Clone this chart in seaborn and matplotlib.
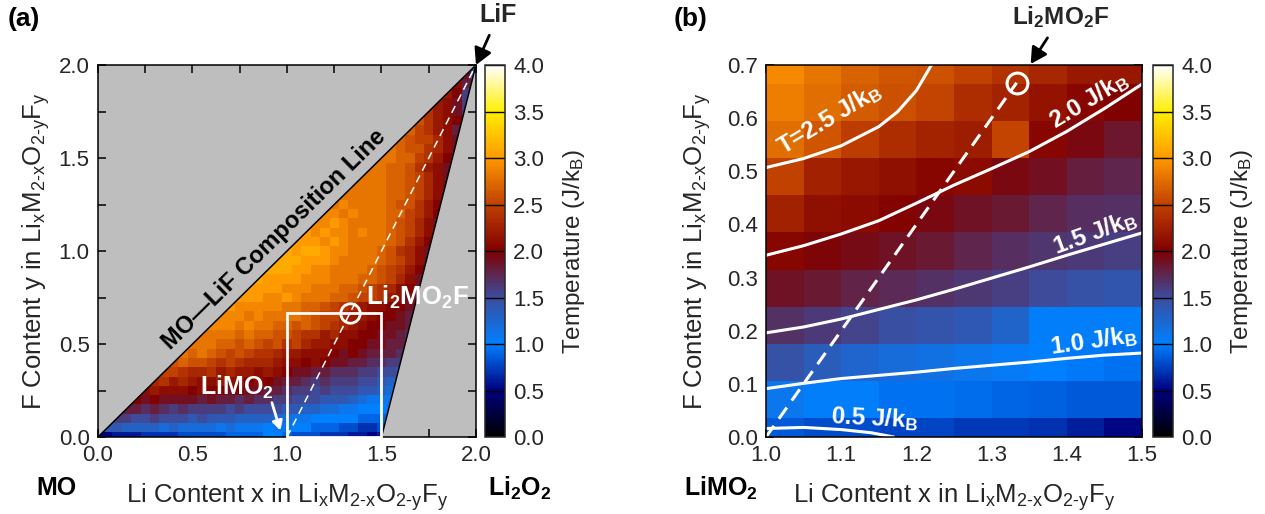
import numpy as np
import pandas as pd
import matplotlib
matplotlib.use("Agg")
import matplotlib.pyplot as plt
import seaborn as sns
from matplotlib.colors import LinearSegmentedColormap, Normalize
from matplotlib.patches import Polygon, Rectangle

# ---------------------------------------------------------------------------
# Data
# ---------------------------------------------------------------------------
# (a) ordering temperature (tenths of J/kB) on the 0.05 composition grid.
# Row j holds F content y = 0.05*j; its first entry sits at Li content x = y.
temp_a_rows = [
    [5, 5, 6, 6, 6, 7, 7, 7, 7, 8, 8, 8, 8, 8, 9, 9, 9, 9, 10, 10, 9, 8, 8, 8, 7, 7, 7, 6, 6, 5, 6],
    [14, 14, 13, 13, 13, 13, 12, 13, 12, 12, 12, 12, 11, 12, 11, 11, 11, 10, 11, 11, 10, 10, 9, 9, 9, 8, 8, 7, 7, 8],
    [16, 16, 15, 15, 16, 15, 15, 15, 14, 15, 14, 14, 14, 13, 13, 13, 13, 12, 12, 11, 11, 10, 10, 10, 10, 10, 9, 9, 9, 10],
    [18, 18, 17, 18, 17, 16, 17, 16, 16, 16, 16, 15, 16, 15, 15, 15, 15, 14, 14, 13, 13, 12, 12, 11, 11, 10, 10, 10, 11],
    [20, 19, 20, 19, 19, 19, 19, 18, 19, 18, 18, 17, 18, 17, 17, 16, 16, 15, 15, 15, 14, 14, 14, 13, 12, 11, 11, 11],
    [21, 22, 21, 21, 21, 20, 21, 20, 20, 19, 20, 19, 19, 18, 18, 17, 16, 16, 15, 16, 15, 15, 15, 14, 14, 13, 12],
    [23, 24, 22, 23, 22, 21, 21, 22, 21, 21, 20, 21, 20, 19, 18, 18, 17, 16, 17, 16, 16, 16, 15, 15, 14, 13, 13],
    [25, 25, 24, 23, 23, 24, 22, 23, 22, 22, 21, 22, 21, 20, 19, 19, 18, 18, 17, 17, 17, 16, 16, 15, 15, 14],
    [26, 27, 26, 26, 25, 24, 25, 24, 23, 23, 23, 22, 21, 21, 20, 21, 20, 19, 19, 18, 18, 17, 17, 16, 16],
    [28, 27, 28, 27, 26, 25, 26, 25, 24, 24, 23, 22, 22, 21, 21, 21, 20, 19, 20, 19, 18, 18, 18, 17],
    [28, 28, 28, 27, 27, 26, 27, 26, 25, 26, 24, 25, 23, 22, 22, 21, 21, 20, 20, 19, 19, 18, 18, 17],
    [28, 28, 28, 28, 27, 28, 27, 27, 26, 26, 25, 24, 24, 22, 23, 21, 21, 20, 20, 19, 19, 18, 17],
    [29, 29, 29, 28, 29, 28, 28, 27, 27, 26, 27, 26, 25, 24, 23, 22, 21, 20, 20, 19, 19, 18],
    [29, 29, 29, 28, 29, 28, 28, 28, 28, 27, 26, 25, 25, 23, 22, 22, 21, 20, 20, 19, 18],
    [30, 29, 29, 29, 29, 29, 28, 28, 27, 27, 26, 25, 24, 23, 22, 21, 21, 20, 20, 19, 18],
    [30, 30, 30, 29, 29, 30, 29, 28, 28, 28, 27, 27, 26, 25, 25, 24, 22, 21, 19, 18],
    [30, 30, 30, 30, 29, 29, 29, 28, 28, 28, 27, 27, 26, 25, 24, 23, 21, 20, 18],
    [31, 30, 30, 30, 30, 29, 29, 29, 28, 28, 28, 27, 27, 26, 25, 23, 21, 19],
    [31, 31, 31, 30, 30, 29, 29, 28, 28, 28, 28, 27, 26, 25, 24, 22, 20, 18],
    [31, 31, 31, 30, 30, 30, 29, 28, 28, 28, 28, 27, 26, 25, 23, 21, 19],
    [31, 30, 31, 31, 30, 29, 29, 28, 28, 28, 27, 26, 24, 23, 21, 19],
    [30, 30, 30, 29, 30, 29, 28, 28, 28, 28, 27, 26, 24, 22, 20],
    [30, 29, 30, 29, 29, 28, 29, 28, 28, 27, 26, 25, 23, 21, 19],
    [29, 29, 30, 29, 28, 28, 28, 28, 27, 26, 25, 23, 21, 19],
    [29, 29, 28, 29, 28, 28, 28, 27, 27, 25, 24, 22, 20],
    [28, 29, 28, 28, 28, 28, 27, 26, 26, 24, 22, 20],
    [28, 28, 28, 28, 28, 27, 27, 26, 25, 23, 21, 19],
    [28, 28, 28, 28, 27, 27, 26, 25, 23, 21, 19],
    [28, 28, 28, 27, 27, 26, 25, 23, 21, 19],
    [28, 28, 27, 27, 26, 24, 22, 21, 19],
    [28, 28, 27, 27, 25, 24, 22, 20, 18],
    [28, 27, 26, 26, 24, 23, 21, 19],
    [27, 26, 25, 25, 23, 21, 19],
    [27, 25, 24, 22, 21, 18],
    [26, 24, 22, 21, 20, 17],
    [24, 22, 21, 19, 16],
    [22, 21, 19, 16],
    [22, 20, 16],
    [21, 18, 15],
    [19, 14],
    [14],
]
grid_step_a = 0.05

# (b) finer calculation around LiMO2 -> Li2MO2F (J/kB)
li_b = [1.025, 1.075, 1.125, 1.175, 1.225, 1.275, 1.325, 1.375, 1.425, 1.475]
f_b = [0.00, 0.07, 0.14, 0.21, 0.28, 0.35, 0.42, 0.49, 0.56, 0.63, 0.70]
temp_b = [
    [0.85, 0.80, 0.80, 0.77, 0.77, 0.73, 0.73, 0.70, 0.62, 0.52],
    [1.10, 1.02, 1.02, 0.95, 0.95, 0.93, 0.90, 0.88, 0.85, 0.85],
    [1.45, 1.35, 1.25, 1.20, 1.15, 1.10, 1.05, 1.00, 0.98, 0.95],
    [1.68, 1.62, 1.55, 1.48, 1.43, 1.38, 1.28, 1.02, 1.02, 1.02],
    [1.88, 1.83, 1.78, 1.73, 1.68, 1.63, 1.58, 1.50, 1.45, 1.42],
    [2.05, 1.97, 1.93, 1.88, 1.83, 1.75, 1.70, 1.65, 1.62, 1.58],
    [2.25, 2.12, 2.08, 2.03, 1.95, 1.88, 1.83, 1.75, 1.70, 1.68],
    [2.50, 2.25, 2.18, 2.12, 2.05, 2.08, 1.95, 1.90, 1.80, 1.75],
    [2.75, 2.62, 2.48, 2.35, 2.28, 2.22, 2.52, 2.05, 1.95, 1.85],
    [2.85, 2.75, 2.65, 2.58, 2.52, 2.35, 2.28, 2.15, 2.05, 2.00],
    [2.92, 2.80, 2.70, 2.62, 2.60, 2.50, 2.40, 2.30, 2.20, 2.18],
]

# iso-temperature lines in (b)
iso_x_grid = [1.0, 1.05, 1.1, 1.15, 1.2, 1.25, 1.3, 1.35, 1.4, 1.45, 1.5]
iso_10_y = [0.091, 0.101, 0.110, 0.116, 0.122, 0.129, 0.135, 0.141, 0.148, 0.154, 0.158]
iso_15_y = [0.196, 0.207, 0.222, 0.240, 0.258, 0.278, 0.299, 0.320, 0.342, 0.363, 0.384]
iso_20_y = [0.342, 0.360, 0.382, 0.407, 0.440, 0.474, 0.505, 0.537, 0.575, 0.618, 0.664]
iso_05_x = [1.0, 1.05, 1.1, 1.14, 1.17]
iso_05_y = [0.016, 0.018, 0.014, 0.008, 0.0]
iso_25_x = [1.0, 1.05, 1.1, 1.15, 1.175, 1.2, 1.22]
iso_25_y = [0.507, 0.524, 0.548, 0.584, 0.612, 0.652, 0.700]

# key compositions (Li content, F content)
li2mo2f = (4 / 3, 2 / 3)
limo2 = (1.0, 0.0)
lif = (2.0, 2.0)
region_corners = [(0.0, 0.0), (1.5, 0.0), (2.0, 2.0)]

cbar_ticks = [0.0, 0.5, 1.0, 1.5, 2.0, 2.5, 3.0, 3.5, 4.0]

# ---------------------------------------------------------------------------
# Style
# ---------------------------------------------------------------------------
sns.set_style("ticks")
plt.rcParams["font.family"] = ["Liberation Sans", "DejaVu Sans"]
plt.rcParams["mathtext.fontset"] = "custom"
plt.rcParams["mathtext.rm"] = "Liberation Sans"
plt.rcParams["mathtext.it"] = "Liberation Sans:italic"
plt.rcParams["mathtext.bf"] = "Liberation Sans:bold"

TICK_FS = 16
LAB_FS = 18.5
CB_FS = 17.5
ANN_FS = 17.5

temp_cmap = LinearSegmentedColormap.from_list(
    "temp",
    [(0.0 / 4, "#000000"), (0.5 / 4, "#000080"), (1.0 / 4, "#0080ff"),
     (1.5 / 4, "#3c4c9c"), (2.0 / 4, "#800000"), (2.5 / 4, "#c04000"),
     (3.0 / 4, "#ff9800"), (3.5 / 4, "#ffee00"), (4.0 / 4, "#ffffff")])
norm = Normalize(0, 4)

formula = r"$\mathregular{Li_xM_{2\text{-}x}O_{2\text{-}y}F_y}$"
xlab = "Li Content x in " + formula
ylab = "F Content y in " + formula
cblab = r"Temperature ($\mathregular{J/k_B}$)"

fig = plt.figure(figsize=(12.65, 5.14), dpi=100)
axA = fig.add_axes([0.07747, 0.1498, 0.29881, 0.72374])
caxA = fig.add_axes([0.3834, 0.1498, 0.01581, 0.72374])
axB = fig.add_axes([0.60553, 0.1498, 0.2972, 0.72374])
caxB = fig.add_axes([0.91146, 0.1498, 0.01581, 0.72374])


def style_axes(ax, xmaj, xmin, ymaj, ymin):
    ax.set_xticks(xmaj)
    ax.set_xticks(xmin, minor=True)
    ax.set_yticks(ymaj)
    ax.set_yticks(ymin, minor=True)
    ax.xaxis.set_major_formatter("{x:.1f}")
    ax.yaxis.set_major_formatter("{x:.1f}")
    ax.tick_params(which="both", direction="in", top=True, right=True,
                   length=6, width=1.1, labelsize=TICK_FS, pad=6, color="k")
    for s in ax.spines.values():
        s.set_linewidth(1.1)
        s.set_color("k")
        s.set_zorder(6)


def style_cbar(cb, cax):
    cax.tick_params(length=0, labelsize=TICK_FS, pad=6)
    cax.yaxis.set_major_formatter("{x:.1f}")
    for t in cbar_ticks:
        cax.axhline(t, color="k", lw=1.0)
    cb.outline.set_linewidth(1.1)
    cax.set_ylabel(cblab, fontsize=CB_FS, labelpad=12)


# ---------------------------------------------------------------------------
# (a) full composition triangle
# ---------------------------------------------------------------------------
axA.set_facecolor("#bebebe")
n_a = len(temp_a_rows)
za = np.full((n_a, n_a), np.nan)
for j, row in enumerate(temp_a_rows):
    za[j, j:j + len(row)] = np.asarray(row) / 10.0
coords_a = np.arange(n_a) * grid_step_a
mesh_a = axA.pcolormesh(coords_a, coords_a, za, cmap=temp_cmap, norm=norm,
                        shading="nearest", zorder=1)
tri = Polygon(region_corners, closed=True, transform=axA.transData)
mesh_a.set_clip_path(tri)
tx, ty = zip(*region_corners)
axA.plot([tx[0], tx[2]], [ty[0], ty[2]], color="k", lw=1.1, zorder=3)
axA.plot([tx[1], tx[2]], [ty[1], ty[2]], color="k", lw=1.1, zorder=3)
axA.plot([limo2[0], lif[0]], [limo2[1], lif[1]], color="white", lw=1.1,
         dashes=(5, 3.5), zorder=3)
axA.add_patch(Rectangle(limo2, 0.5, li2mo2f[1], fill=False, ec="white",
                        lw=2.0, zorder=7, clip_on=False))
axA.plot(*li2mo2f, "o", mfc="none", mec="white", ms=14, mew=2, zorder=8)
axA.set_xlim(0, 2)
axA.set_ylim(0, 2)
style_axes(axA, np.arange(0, 2.01, 0.5), np.arange(0, 2.01, 0.25),
           np.arange(0, 2.01, 0.5), np.arange(0, 2.01, 0.25))
axA.set_xlabel(xlab, fontsize=LAB_FS, labelpad=11)
axA.set_ylabel(ylab, fontsize=LAB_FS, labelpad=5)

axA.text(0.93, 1.06, "MO\u2014LiF Composition Line", rotation=44.5,
         rotation_mode="anchor", ha="center", va="center",
         fontsize=17, fontweight="bold", color="k", zorder=4)
axA.text(1.69, 0.75, r"$\mathregular{Li_2MO_2F}$", ha="center", va="center",
         fontsize=18.5, fontweight="bold", color="white", zorder=8)
axA.text(0.735, 0.265, r"$\mathregular{LiMO_2}$", ha="center", va="center",
         fontsize=18, fontweight="bold", color="white", zorder=8)
axA.annotate("", xy=(0.965, 0.035), xytext=(0.92, 0.185),
             arrowprops=dict(arrowstyle="-|>,head_length=0.55,head_width=0.3",
                             color="white", lw=2.0, shrinkA=0, shrinkB=0),
             zorder=8)
cbA = fig.colorbar(mesh_a, cax=caxA, ticks=cbar_ticks)
style_cbar(cbA, caxA)

# ---------------------------------------------------------------------------
# (b) zoom on LiMO2 - Li2MO2F
# ---------------------------------------------------------------------------
mesh_b = axB.pcolormesh(li_b, f_b, np.asarray(temp_b), cmap=temp_cmap,
                        norm=norm, shading="nearest", zorder=1)
iso = pd.concat([
    pd.DataFrame({"x": iso_05_x, "y": iso_05_y, "level": "0.5"}),
    pd.DataFrame({"x": iso_x_grid, "y": iso_10_y, "level": "1.0"}),
    pd.DataFrame({"x": iso_x_grid, "y": iso_15_y, "level": "1.5"}),
    pd.DataFrame({"x": iso_x_grid, "y": iso_20_y, "level": "2.0"}),
    pd.DataFrame({"x": iso_25_x, "y": iso_25_y, "level": "2.5"}),
])
sns.lineplot(data=iso, x="x", y="y", hue="level", units="level",
             estimator=None, sort=False, palette=["white"] * 5,
             lw=2.2, legend=False, ax=axB, zorder=4)
axB.plot([limo2[0], li2mo2f[0]], [limo2[1], li2mo2f[1]], color="white",
         lw=2.2, dashes=(4.5, 2.8), zorder=4)
axB.plot(*li2mo2f, "o", mfc="none", mec="white", ms=15, mew=2.2, zorder=8)
axB.set_xlim(1.0, 1.5)
axB.set_ylim(0.0, 0.7)
style_axes(axB, np.arange(1.0, 1.501, 0.1), np.arange(1.0, 1.501, 0.05),
           np.arange(0, 0.701, 0.1), np.arange(0, 0.701, 0.05))
axB.set_xlabel(xlab, fontsize=LAB_FS, labelpad=11)
axB.set_ylabel(ylab, fontsize=LAB_FS, labelpad=10)

iso_labels = [
    (1.084, 0.598, 31, r"T=2.5 $\mathregular{J/k_B}$"),
    (1.429, 0.633, 31, r"2.0 $\mathregular{J/k_B}$"),
    (1.438, 0.384, 20, r"1.5 $\mathregular{J/k_B}$"),
    (1.436, 0.180, 8, r"1.0 $\mathregular{J/k_B}$"),
    (1.144, 0.036, -3, r"0.5 $\mathregular{J/k_B}$"),
]
for lx, ly, rot, txt in iso_labels:
    axB.text(lx, ly, txt, rotation=rot, rotation_mode="anchor", ha="center",
             va="center", fontsize=ANN_FS, fontweight="bold", color="white",
             zorder=6)
cbB = fig.colorbar(mesh_b, cax=caxB, ticks=cbar_ticks)
style_cbar(cbB, caxB)

# ---------------------------------------------------------------------------
# panel tags and end-member labels
# ---------------------------------------------------------------------------
bold = dict(fontsize=18, fontweight="bold", color="k",
            ha="center", va="center")
fig.text(0.019, 0.963, "(a)", **{**bold, "fontsize": 19})
fig.text(0.546, 0.963, "(b)", **{**bold, "fontsize": 19})
fig.text(0.0443, 0.0506, "MO", **bold)
fig.text(0.411, 0.049, r"$\mathregular{Li_2O_2}$", **bold)
fig.text(0.570, 0.0506, r"$\mathregular{LiMO_2}$", **bold)

arrow_k = dict(arrowstyle="-|>,head_length=0.55,head_width=0.3", color="k",
               lw=2.0, shrinkA=4, shrinkB=0)
axA.annotate("LiF", xy=lif, xytext=(0.394, 0.971),
             textcoords="figure fraction", ha="center", va="center",
             fontsize=18, fontweight="bold", arrowprops=arrow_k,
             annotation_clip=False)
axB.annotate(r"$\mathregular{Li_2MO_2F}$", xy=(1.352, 0.702),
             xytext=(0.8387, 0.967), textcoords="figure fraction",
             ha="center", va="center", fontsize=17.5, fontweight="bold",
             arrowprops=arrow_k, annotation_clip=False)

fig.savefig("out.png", dpi=100)
